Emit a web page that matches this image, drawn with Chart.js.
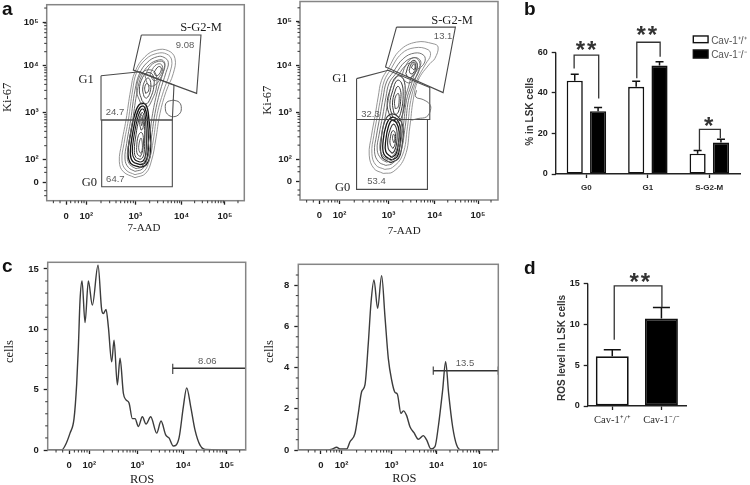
<!DOCTYPE html>
<html><head><meta charset="utf-8">
<style>
html,body{margin:0;padding:0;background:#fff;width:750px;height:485px;overflow:hidden}
canvas{position:absolute;filter:blur(0.45px)}
.tag{position:absolute;font:bold 19px "Liberation Sans";color:#111;line-height:19px;filter:blur(0.3px)}
</style>
<script src="https://cdn.jsdelivr.net/npm/chart.js@4/dist/chart.umd.min.js"></script>
</head><body>
<div class="tag" style="left:2px;top:-1px">a</div>
<div class="tag" style="left:524px;top:-1px">b</div>
<div class="tag" style="left:2px;top:256px">c</div>
<div class="tag" style="left:524px;top:258px">d</div>
<canvas id="a1"></canvas><canvas id="a2"></canvas><canvas id="b"></canvas>
<canvas id="c1"></canvas><canvas id="c2"></canvas><canvas id="d"></canvas>
<script>
// ---------- axis data ----------
const decadeLabels = ['0','10²','10³','10⁴','10⁵'];
const flowXTicks = [58,119,266,405,535];
const flowYTicks = [56,123,264,405,536];
const flowXMinor = [20,40,72,85,95,105,112,163,189,208,222,234,243,252,260,309,333,350,364,374,384,392,399,444,467,483,496,506,515,523,530,574];
const flowYMinor = [15,30,85,100,165,190,208,222,233,243,251,258,306,331,349,363,374,384,392,399,447,472,490,504,515,525,533,578];

// ---------- panel a, left contours (x,y channel pairs) ----------
const a1Outer1 = [265,69,230,87,218,117,225,172,238,242,252,332,265,387,295,432,330,452,365,450,385,427,380,382,358,327,340,262,327,182,315,122,297,82];
const a1Outer2 = [265,78,238,92,226,120,232,172,245,242,258,332,270,385,298,425,332,442,360,440,375,422,370,385,350,327,332,262,320,182,308,122,292,88];
const a1Outer3 = [265,88,245,100,235,125,240,172,252,242,265,332,278,380,302,415,332,432,352,430,365,415,358,385,340,327,325,262,313,182,302,125,288,96];
const a1Outer4 = [268,96,250,108,242,130,247,175,258,242,272,330,285,375,308,408,335,422,350,420,355,405,348,380,332,327,318,262,307,182,296,128,285,102];
const a1Up1 = [295,375,312,405,335,418,352,414,352,395,340,365,322,345,305,348];
const a1Up2 = [310,380,325,405,342,410,348,395,338,372,322,360];
const a1Up3 = [322,385,335,402,344,398,338,380,328,375];
const a1Mid1 = [282,292,270,330,280,375,300,392,325,385,330,345,315,300,300,280];
const a1Mid2 = [286,300,278,332,288,370,303,384,318,378,322,345,310,305,298,290];
const a1Mid3 = [292,312,288,335,295,360,305,368,312,355,310,325,300,308];
const a1Mid4 = [297,322,294,338,300,352,306,345,305,328];
const a1Low1 = [280,100,252,112,244,142,252,202,265,262,280,290,298,287,307,242,312,182,310,132,298,107];
const a1Low2 = [280,108,258,118,251,144,258,202,270,258,282,282,294,280,302,242,305,182,303,135,294,113];
const a1Low3 = [280,116,264,124,257,146,263,200,274,252,284,274,292,272,297,240,299,182,297,138,290,120];
const a1Low4 = [280,124,268,130,263,150,268,198,277,245,285,264,290,262,293,238,294,182,292,142,287,128];
const a1Low5 = [281,132,272,140,270,160,275,195,284,205,290,190,288,150];
const a1Low6 = [282,142,277,150,277,170,283,188,287,170,286,150];
const a1Low7 = [283,212,279,235,285,258,290,235,288,215];
const a1Low8 = [285,225,283,238,286,250,288,238];
const a1Stray = [380,302,360,295,356,277,362,260,380,252,398,260,404,277,398,295];
const a1GateS = [284,497,463,497,450,322,260,392,284,497];
const a1GateG1 = [163,375,280,387,382,347,377,242,163,242,163,375];
const a1GateG0 = [165,242,377,242,377,42,165,42,165,242];

// ---------- panel a, right contours ----------
const a2Outer1 = [250,80,222,95,208,135,215,195,225,250,235,310,245,360,265,395,300,450,350,475,400,470,415,460,405,425,390,410,355,360,340,300,330,220,315,130,280,85];
const a2Outer2 = [255,92,228,105,216,140,222,195,232,250,243,310,253,358,272,392,305,440,345,458,385,452,392,435,378,410,350,358,333,300,323,220,308,135,278,98];
const a2Outer3 = [258,104,236,115,224,145,230,195,240,250,250,310,260,355,280,385,310,425,345,442,372,435,375,415,358,392,342,350,326,300,316,220,301,140,278,110];
const a2Outer4 = [260,114,244,124,232,150,238,198,248,250,258,308,268,352,288,380,315,415,342,428,360,422,362,405,345,380,334,345,320,300,310,220,295,145,276,120];
const a2Outer5 = [262,122,250,132,240,155,246,200,256,250,266,305,276,348,295,375,318,405,340,415,352,410,350,392,335,370,326,340,314,298,304,220,290,150,274,128];
const a2Up1 = [305,370,318,405,340,428,358,418,358,390,342,362,325,352];
const a2Up2 = [318,380,328,408,342,420,352,410,350,390,338,372,326,368];
const a2Up3 = [328,390,335,410,345,412,348,398,340,382,332,380];
const a2Up4 = [335,398,340,408,346,404,343,392];
const a2Mid1 = [275,240,262,285,272,335,290,372,310,365,316,320,310,265,295,235];
const a2Mid2 = [278,250,270,287,279,330,292,360,305,352,310,315,304,268,293,245];
const a2Mid3 = [282,262,278,292,285,325,294,342,302,330,303,305,298,272,290,258];
const a2Mid4 = [286,275,284,295,289,315,296,320,298,300,294,278];
const a2Low1 = [272,112,246,130,244,180,254,235,272,258,295,250,310,215,306,160,296,125];
const a2Low2 = [274,120,252,138,250,180,260,228,274,248,292,242,303,210,300,162,292,130];
const a2Low3 = [276,128,258,145,258,182,266,222,277,240,290,232,298,205,295,165,288,138];
const a2Low4 = [277,140,265,155,264,185,272,215,280,228,288,220,292,200,290,168,284,148];
const a2Low5 = [279,155,271,168,272,190,278,208,285,205,287,185,285,165];
const a2Low6 = [282,172,278,185,281,198,285,190,284,176];
const a2Stray = [350,330,348,310,370,302,390,288,392,270,380,250,355,245,335,240];
const a2GateS = [290,520,467,520,430,323,257,400,290,520];
const a2GateG1 = [170,365,265,390,390,338,390,242,170,242,170,365];
const a2GateG0 = [170,242,383,242,383,32,170,32,170,242];

// ---------- panel b ----------
const bCategories = ['G0','G1','S-G2-M'];
const bWildType = [46,43,10];
const bKnockout = [31,53.5,15.5];
const bWildTop = [49.2,45.8,11.6];
const bKnockTop = [32.8,55.4,17.2];
const bTicks = [0,20,40,60];
const bLegend = ['Cav-1⁺/⁺','Cav-1⁻/⁻'];

// ---------- panel d ----------
const dCategories = ['Cav-1⁺/⁺','Cav-1⁻/⁻'];
const dValues = [6.1,10.7];
const dTop = [6.9,12.05];
const dTicks = [0,5,10,15];

// ---------- panel c histograms ----------
const c1X = [0,42,52,67,79,87,92,97,103,112,122,134,151,162,167,175,182,192,199,209,217,227,235,244,254,262,272,284,295,309,327,340,354,364,377,394,407,417,429,442,457,472,594];
const c1Y = [0,0,0.35,1.4,2.6,5.5,8.5,12.4,14,10.55,14,12,15.3,11.6,11.3,11.65,10.2,7.3,9.1,5.4,7.6,4.7,4.15,3.9,2.6,2.6,1.95,2.75,2.15,2.75,1.4,2.4,1.25,1,0.33,1,3.6,5.15,3.6,1.65,0.4,0.05,0];
const c1Ticks = [0,5,10,15];
const c1XTicks = [64,125,269,407,537];
const c1XMinor = [25,45,80,92,102,110,118,168,194,212,226,238,247,256,263,311,335,352,366,377,387,395,402,446,469,485,498,508,517,525,532,576];
const c1YMinor = [1,2,3,4,6,7,8,9,11,12,13,14];
const c2X = [0,90,103,115,125,145,155,170,180,190,200,210,218,227,238,250,260,270,280,290,297,308,315,325,335,347,360,375,385,398,410,420,433,442,451,463,475,488,600];
const c2Y = [0,0,0.05,0.13,0.05,0.05,0.4,0.8,1.78,2.83,3.16,5.18,7.13,8.26,6.88,8.47,6.48,4.45,3.4,2.8,2.72,1.78,1.9,1.67,1.13,0.84,0.52,0.7,0.49,0.05,0.16,1.13,2.9,4.29,2.75,1.13,0.24,0,0];
const c2Ticks = [0,2,4,6,8];
const c2XTicks = [68,130,280,415,545];
const c2XMinor = [30,50,85,97,107,115,123,175,201,220,235,247,256,265,272,322,346,364,378,389,398,406,412,455,478,494,507,517,526,534,540,582];
const c2YMinor = [0.5,1,1.5,2.5,3,3.5,4.5,5,5.5,6.5,7,7.5,8.5];

// ---------- helpers ----------
const SANS='"Liberation Sans"', SERIF='"Liberation Serif"';
const pairs = a => { const o=[]; for(let i=0;i<a.length;i+=2) o.push({x:a[i],y:a[i+1]}); return o; };
const closed = a => a.concat(a.slice(0,2));
const ring = (a,color,w) => ({data:pairs(closed(a)),borderColor:color,borderWidth:w,tension:0.42,showLine:true,pointRadius:0,order:2});
const gate = a => ({data:pairs(a),borderColor:'#4a4a4a',borderWidth:1.1,tension:0,showLine:true,pointRadius:0,order:1});
const noPad = s => { s.paddingTop=0;s.paddingBottom=0;s.paddingLeft=0;s.paddingRight=0; };

const marks = {
  id:'marks',
  afterDraw(ch,_,o){
    const c=ch.ctx,A=ch.chartArea,X=ch.scales.x,Y=ch.scales.y;
    const px=v=>X.getPixelForValue(v),py=v=>Y.getPixelForValue(v);
    c.save();
    if(o.frame){c.strokeStyle='#858585';c.lineWidth=1.5;c.strokeRect(A.left,A.top,A.right-A.left,A.bottom-A.top);}
    c.strokeStyle='#333';c.lineWidth=1;
    (o.minorX||[]).forEach(v=>{c.beginPath();c.moveTo(px(v),A.bottom);c.lineTo(px(v),A.bottom+2.5);c.stroke();});
    (o.minorY||[]).forEach(v=>{c.beginPath();c.moveTo(A.left,py(v));c.lineTo(A.left-2.5,py(v));c.stroke();});
    if(o.axisTo!==undefined){c.strokeStyle='#222';c.lineWidth=1.4;c.beginPath();c.moveTo(A.left,A.bottom);c.lineTo(A.left,py(o.axisTo));c.stroke();}
    (o.errors||[]).forEach(e=>{c.strokeStyle='#111';c.lineWidth=1.5;
      e.low.forEach((v,i)=>{const x=px(i+e.shift);c.beginPath();c.moveTo(x,py(v));c.lineTo(x,py(e.high[i]));c.moveTo(x-e.cap,py(e.high[i]));c.lineTo(x+e.cap,py(e.high[i]));c.stroke();});});
    (o.brackets||[]).forEach(b=>{c.strokeStyle='#333';c.lineWidth=1.3;c.beginPath();c.moveTo(px(b[0]),py(b[3]));c.lineTo(px(b[0]),py(b[2]));c.lineTo(px(b[1]),py(b[2]));c.lineTo(px(b[1]),py(b[4]));c.stroke();});
    (o.keys||[]).forEach(k=>{c.strokeStyle='#111';c.lineWidth=1.4;c.fillStyle=k.fill;
      c.fillRect(px(k.x0),py(k.y1),px(k.x1)-px(k.x0),py(k.y0)-py(k.y1));c.strokeRect(px(k.x0),py(k.y1),px(k.x1)-px(k.x0),py(k.y0)-py(k.y1));});
    (o.texts||[]).forEach(t=>{
      c.font=t.font;c.fillStyle=t.color||'#222';c.textAlign=t.align||'center';c.textBaseline='alphabetic';
      c.letterSpacing=t.sp||'0px';
      const m=c.measureText(t.t),dy=(m.actualBoundingBoxAscent-m.actualBoundingBoxDescent)/2;
      c.save();c.translate(px(t.x),py(t.y));if(t.rot)c.rotate(-Math.PI/2);c.fillText(t.t,0,dy);c.restore();
    });
    c.restore();
  }
};
Chart.register(marks);

function place(id,rect,area){
  const el=document.getElementById(id);
  el.style.left=rect[0]+'px';el.style.top=rect[1]+'px';
  el.width=rect[2];el.height=rect[3];el.style.width=rect[2]+'px';el.style.height=rect[3]+'px';
  return {el,padding:{top:area[1]-rect[1],right:rect[0]+rect[2]-area[2],left:0,bottom:0},
    w:area[0]-rect[0],h:rect[1]+rect[3]-area[3]};
}
const tickFont={family:SANS,weight:'bold',size:9.5};
function valueAxis(min,max,ticks,labels,w,opt){
  opt=opt||{};
  return {type:'linear',min,max,
    afterBuildTicks:s=>{s.ticks=ticks.map(v=>({value:v}));},
    afterFit:s=>{if(w.side==='y')s.width=w.size;else s.height=w.size;noPad(s);},
    border:{display:false},
    grid:{drawOnChartArea:false,drawTicks:true,tickLength:4,tickWidth:1.3,tickColor:'#222'},
    ticks:{autoSkip:false,maxRotation:0,minRotation:0,font:opt.font||tickFont,color:'#1c1c1c',padding:opt.pad===undefined?4:opt.pad,
      callback:(v,i)=>labels?labels[i]:String(v)}};
}
function base(p,datasets,xs,ys,plug){
  return new Chart(p.el,{type:'scatter',data:{datasets},options:{
    responsive:false,animation:false,layout:{padding:p.padding},
    plugins:{legend:{display:false},tooltip:{enabled:false},marks:plug},
    scales:{x:xs,y:ys}}});
}
function flow(id,rect,area,rings,gates,yMax,xMax,texts){
  const p=place(id,rect,area);
  const ds=rings.concat(gates.map(gate));
  base(p,ds,
    valueAxis(0,xMax,flowXTicks,decadeLabels,{side:'x',size:p.h},{pad:6}),
    valueAxis(0,yMax,flowYTicks,decadeLabels,{side:'y',size:p.w},{}),
    {frame:true,minorX:flowXMinor,minorY:flowYMinor,texts});
}
const G1='#8a8a8a',G2='#666',D1='#3a3a3a',D2='#161616';
const gray=(t,x,y)=>({t,x,y,font:'9.5px '+SANS,color:'#5c5c5c'});
const serif=(t,x,y,rot)=>({t,x,y,font:'12.5px '+SERIF,color:'#1c1c1c',rot});

flow('a1',[0,0,262,245],[46.7,4.7,244.3,200.7],
  [ring(a1Outer1,G1,0.9),ring(a1Outer2,G1,0.9),ring(a1Outer3,G2,0.9),ring(a1Outer4,G2,0.9),
   ring(a1Up1,G2,0.9),ring(a1Up2,G2,0.9),ring(a1Up3,D1,0.9),
   ring(a1Mid1,G2,0.9),ring(a1Mid2,D1,0.9),ring(a1Mid3,D1,0.9),ring(a1Mid4,D1,0.9),
   ring(a1Low1,D2,1.4),ring(a1Low2,D2,1.4),ring(a1Low3,D2,1.1),ring(a1Low4,D1,1),
   ring(a1Low5,D1,0.9),ring(a1Low6,D1,0.8),ring(a1Low7,D1,0.9),ring(a1Low8,D1,0.8),ring(a1Stray,'#555',0.9)],
  [a1GateS,a1GateG1,a1GateG0],588,593,
  [serif('S-G2-M',463,522),gray('9.08',415,466),serif('G1',118,365),gray('24.7',205,265),serif('G0',128,56),gray('64.7',206,65),
   serif('Ki-67',-118,310,true),{t:'7-AAD',x:292,y:-81,font:'11px '+SERIF,color:'#1c1c1c'}]);

flow('a2',[262,0,250,245],[300,1.5,498,200],
  [ring(a2Outer1,G1,0.9),ring(a2Outer2,G1,0.9),ring(a2Outer3,G2,0.9),ring(a2Outer4,G2,0.9),ring(a2Outer5,G2,0.9),
   ring(a2Up1,G2,0.9),ring(a2Up2,D1,1),ring(a2Up3,D1,1),ring(a2Up4,D1,1),
   ring(a2Mid1,D1,1),ring(a2Mid2,D1,1),ring(a2Mid3,D1,1),ring(a2Mid4,D1,0.9),
   ring(a2Low1,D1,1.2),ring(a2Low2,D2,1.3),ring(a2Low3,D2,1.3),ring(a2Low4,D1,1.1),ring(a2Low5,D1,1),ring(a2Low6,D1,0.9),
   {data:pairs(a2Stray),borderColor:'#666',borderWidth:0.9,tension:0.4,showLine:true,pointRadius:0}],
  [a2GateS,a2GateG1,a2GateG0],597,595,
  [serif('S-G2-M',457,540),gray('13.1',430,492),serif('G1',120,368),gray('32.3',212,258),serif('G0',128,38),gray('53.4',230,58),
   serif('Ki-67',-100,300,true),{t:'7-AAD',x:313,y:-93,font:'11px '+SERIF,color:'#1c1c1c'}]);

function hist(id,rect,area,xs,ys,xMax,yMax,xTicks,yTicks,xMinor,yMinor,gateDs,texts){
  const p=place(id,rect,area);
  const pts=xs.map((x,i)=>({x,y:ys[i]}));
  const line={data:pts,borderColor:'#3c3c3c',borderWidth:1.4,tension:0.35,cubicInterpolationMode:'monotone',showLine:true,pointRadius:0};
  base(p,[line].concat(gateDs),
    valueAxis(0,xMax,xTicks,decadeLabels,{side:'x',size:p.h},{pad:6}),
    valueAxis(0,yMax,yTicks,null,{side:'y',size:p.w},{font:{family:SANS,weight:'bold',size:9.5},pad:5}),
    {frame:true,minorX:xMinor,minorY:yMinor,texts});
}
const c1GateX=[375,594], c1GateY=6.77, c1GateCap=[6.3,7.15];
const c2GateX=[405,600], c2GateY=3.85, c2GateCap=[3.65,4.05];
const gateLine=(x,y,cap)=>[
  {data:[{x:x[0],y},{x:x[1],y}],borderColor:'#333',borderWidth:1.6,showLine:true,pointRadius:0},
  {data:[{x:x[0],y:cap[0]},{x:x[0],y:cap[1]}],borderColor:'#555',borderWidth:1.3,showLine:true,pointRadius:0},
  {data:[{x:x[1],y:cap[0]},{x:x[1],y:cap[1]}],borderColor:'#333',borderWidth:1.3,showLine:true,pointRadius:0}];
hist('c1',[0,250,262,235],[47.7,262.3,245.7,450],c1X,c1Y,594,15.55,c1XTicks,c1Ticks,c1XMinor,c1YMinor,gateLine(c1GateX,c1GateY,c1GateCap),
  [gray('8.06',479,7.4),serif('cells',-118,8.15,true),serif('ROS',283,-2.4)]);
hist('c2',[262,250,250,235],[298.3,264.3,498.3,450],c2X,c2Y,600,9.02,c2XTicks,c2Ticks,c2XMinor,c2YMinor,gateLine(c2GateX,c2GateY,c2GateCap),
  [gray('13.5',500,4.24),serif('cells',-90,4.78,true),serif('ROS',318,-1.38)]);

function barChart(id,rect,area,labels,datasets,yMax,ticks,plug,xFont,xPad,tickF){
  const p=place(id,rect,area);
  new Chart(p.el,{type:'bar',data:{labels,datasets},options:{
    responsive:false,animation:false,layout:{padding:p.padding},
    plugins:{legend:{display:false},tooltip:{enabled:false},marks:plug},
    scales:{
      x:{type:'category',afterFit:s=>{s.height=p.h;noPad(s);},border:{color:'#222',width:1.5},
        grid:{offset:false,drawOnChartArea:false,tickLength:4,tickWidth:1.3,tickColor:'#222'},
        ticks:{font:xFont,color:'#2a2a2a',padding:xPad,maxRotation:0,minRotation:0,autoSkip:false}},
      y:valueAxis(0,yMax,ticks,null,{side:'y',size:p.w},{font:tickF,pad:4})
    }}});
}
const barStyle=(fill)=>({backgroundColor:fill,borderColor:'#111',borderWidth:1.6,borderSkipped:false});
barChart('b',[505,0,245,205],[555.7,0,740,174],bCategories,
  [Object.assign({data:bWildType,categoryPercentage:0.76,barPercentage:0.69},barStyle('#fff')),
   Object.assign({data:bKnockout,categoryPercentage:0.76,barPercentage:0.69},barStyle('#000'))],
  85.85,bTicks,{
    axisTo:60,
    errors:[{low:bWildType,high:bWildTop,shift:-0.19,cap:4},{low:bKnockout,high:bKnockTop,shift:0.19,cap:4}],
    brackets:[[-0.2,0.2,58.7,52,37.3],[0.82,1.2,65,47.2,57.9],[1.84,2.18,22,11.8,17.6]],
    keys:[{x0:1.74,x1:1.98,y0:64.8,y1:68.1,fill:'#fff'},{x0:1.74,x1:1.98,y0:57.2,y1:61.2,fill:'#000'}],
    texts:[
      {t:bLegend[0],x:2.03,y:66.3,font:'10px '+SANS,color:'#555',align:'left'},
      {t:bLegend[1],x:2.03,y:59.2,font:'10px '+SANS,color:'#555',align:'left'},
      {t:'**',x:0.01,y:63.3,font:'bold 24px '+SANS,color:'#333',sp:'2px'},
      {t:'**',x:1,y:71,font:'bold 24px '+SANS,color:'#333',sp:'2px'},
      {t:'*',x:1.99,y:25.8,font:'bold 24px '+SANS,color:'#333'},
      {t:'% in LSK cells',x:-0.93,y:30.8,font:'bold 10px '+SANS,color:'#333',rot:true}
    ]},{family:SANS,weight:'bold',size:8},5,{family:SANS,weight:'bold',size:9});
barChart('d',[545,260,205,190],[587.7,260,686,406],dCategories,
  [Object.assign({data:dValues,backgroundColor:['#fff','#000'],categoryPercentage:1,barPercentage:0.67},{borderColor:'#111',borderWidth:1.8,borderSkipped:false})],
  17.87,dTicks,{
    axisTo:15,
    errors:[{low:dValues,high:dTop,shift:0,cap:8.5}],
    brackets:[[0.04,1.01,14.7,8.1,12.1]],
    texts:[
      {t:'**',x:0.58,y:15.75,font:'bold 24px '+SANS,color:'#333',sp:'2px'},
      {t:'ROS level in LSK cells',x:-1.04,y:7.1,font:'bold 10px '+SANS,color:'#333',rot:true}
    ]},{family:SERIF,size:10.5},4,{family:SANS,weight:'bold',size:9});
</script>
</body></html>
